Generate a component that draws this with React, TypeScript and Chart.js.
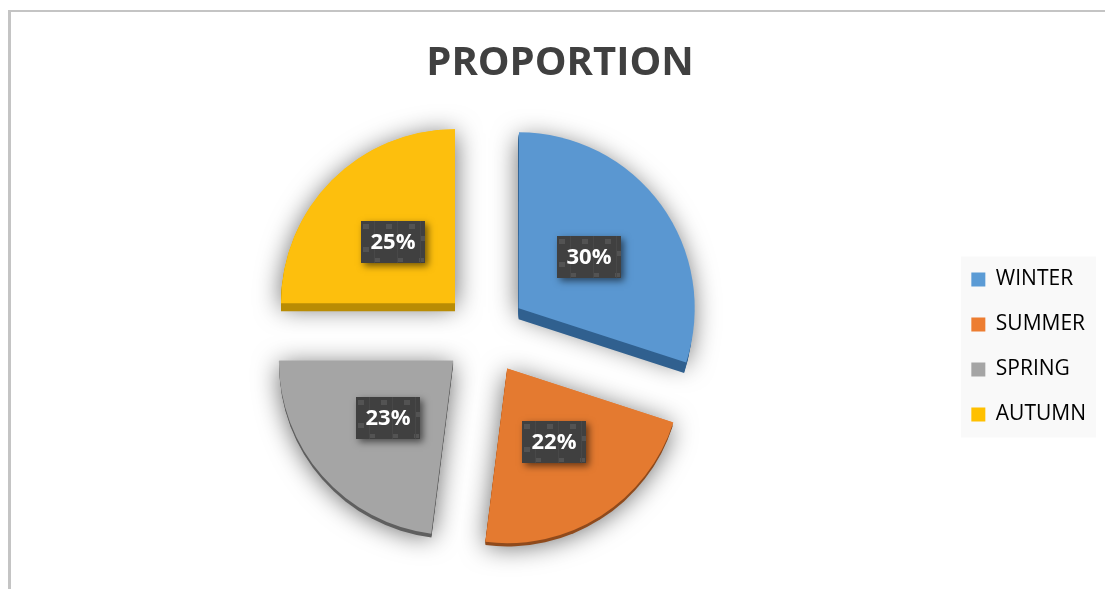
import React, { useEffect, useRef } from "react";
import { Chart, registerables } from "chart.js";

Chart.register(...registerables);

const seasons = ["WINTER", "SUMMER", "SPRING", "AUTUMN"];
const proportions = [30, 22, 23, 25];
const faceColors = ["#5a97d1", "#e47a30", "#a5a5a5", "#fdbf0d"];
const legendColors = ["#5b9bd5", "#ed7d31", "#a5a5a5", "#ffc000"];
const sideColors = ["#30608f", "#8f4a1c", "#5f5f5f", "#b98c04"];
const sideDepths = [11, 4, 4, 8];
const SLICE_SHIFT = 42;

function slicePath(ctx: CanvasRenderingContext2D, el: any) {
  const p = el.getProps(["x", "y", "startAngle", "endAngle", "outerRadius"], true);
  const mid = (p.startAngle + p.endAngle) / 2;
  const cx = p.x + Math.cos(mid) * SLICE_SHIFT;
  const cy = p.y + Math.sin(mid) * SLICE_SHIFT;
  ctx.beginPath();
  ctx.moveTo(cx, cy);
  ctx.arc(cx, cy, p.outerRadius, p.startAngle, p.endAngle);
  ctx.closePath();
  return { cx, cy, mid, r: p.outerRadius };
}

const sliceBackdrop = {
  id: "sliceBackdrop",
  beforeDatasetsDraw(chart: any) {
    const { ctx } = chart;
    const arcs = chart.getDatasetMeta(0).data;
    ctx.save();
    ctx.shadowColor = "rgba(0,0,0,0.6)";
    ctx.shadowBlur = 26;
    ctx.shadowOffsetY = 4;
    arcs.forEach((el: any, i: number) => {
      slicePath(ctx, el);
      ctx.fillStyle = faceColors[i];
      ctx.fill();
    });
    ctx.restore();
    ctx.save();
    arcs.forEach((el: any, i: number) => {
      ctx.fillStyle = sideColors[i];
      for (let d = 1; d <= sideDepths[i]; d++) {
        ctx.save();
        ctx.translate(0, d);
        slicePath(ctx, el);
        ctx.fill();
        ctx.restore();
      }
    });
    ctx.restore();
  },
};

const valueLabels = {
  id: "valueLabels",
  afterDatasetsDraw(chart: any) {
    const { ctx } = chart;
    chart.getDatasetMeta(0).data.forEach((el: any, i: number) => {
      const p = el.getProps(["x", "y", "startAngle", "endAngle", "outerRadius"], true);
      const mid = (p.startAngle + p.endAngle) / 2;
      const dist = SLICE_SHIFT + p.outerRadius / 2;
      const x = p.x + Math.cos(mid) * dist;
      const y = p.y + Math.sin(mid) * dist;
      const w = 64;
      const h = 42;
      const left = Math.round(x - w / 2);
      const top = Math.round(y - h / 2);
      ctx.save();
      ctx.shadowColor = "rgba(0,0,0,0.55)";
      ctx.shadowBlur = 7;
      ctx.shadowOffsetX = 3;
      ctx.shadowOffsetY = 3;
      ctx.fillStyle = "#404040";
      ctx.fillRect(left, top, w, h);
      ctx.restore();
      ctx.save();
      ctx.fillStyle = "#535353";
      [2, 25, 48].forEach((dx) => ctx.fillRect(left + dx, top + 3, 6, 5));
      [14, 37, 58].forEach((dx) => ctx.fillRect(left + dx, top + 37, 5, 4));
      ctx.fillRect(left + 2, top + 26, 6, 5);
      ctx.fillRect(left + 60, top + 15, 4, 5);
      ctx.fillStyle = "#484848";
      [13, 36, 59].forEach((dx) => ctx.fillRect(left + dx, top, 1, h));
      ctx.fillStyle = "#ffffff";
      ctx.font = "bold 22px 'Open Sans'";
      ctx.textAlign = "center";
      ctx.textBaseline = "middle";
      ctx.fillText(`${proportions[i]}%`, left + w / 2, top + h / 2 + 1);
      ctx.restore();
    });
  },
};

const layoutTweaks = {
  id: "layoutTweaks",
  afterLayout(chart: any) {
    if (chart.titleBlock) {
      chart.titleBlock.left += 1;
      chart.titleBlock.right += 1;
    }
    if (chart.legend) {
      chart.legend.left -= 9;
      chart.legend.right -= 9;
      chart.legend.top += 120;
    }
  },
  beforeDraw(chart: any) {
    const { ctx, legend } = chart;
    if (!legend) return;
    const center = (legend.top + legend.bottom) / 2;
    ctx.save();
    ctx.fillStyle = "#f9f9f9";
    ctx.fillRect(961, center - 90.5, 135, 181);
    ctx.restore();
  },
};

export default function App() {
  const ref = useRef<HTMLCanvasElement>(null);
  useEffect(() => {
    if (!ref.current) return;
    const chart = new Chart(ref.current, {
      type: "pie",
      data: {
        labels: seasons,
        datasets: [
          {
            data: proportions,
            backgroundColor: faceColors,
            borderWidth: 0,
            offset: SLICE_SHIFT * 4,
            hoverOffset: 0,
          },
        ],
      },
      options: {
        responsive: false,
        animation: false,
        radius: 174,
        layout: { padding: { left: 13, right: 0, top: 0, bottom: 15 } },
        plugins: {
          tooltip: { enabled: false },
          title: {
            display: true,
            text: "PROPORTION",
            color: "#404040",
            font: { family: "'Open Sans'", size: 40, weight: "bold", lineHeight: 1 },
            padding: { top: 44, bottom: 8 },
          },
          legend: {
            display: true,
            position: "right",
            labels: {
              boxWidth: 14,
              boxHeight: 14,
              padding: 24,
              color: "#404040",
              font: { family: "'Open Sans'", size: 21 },
              generateLabels: () =>
                seasons.map((text, i) => ({
                  text,
                  fillStyle: legendColors[i],
                  strokeStyle: legendColors[i],
                  lineWidth: 0,
                  index: i,
                  hidden: false,
                })),
            },
          },
        },
      },
      plugins: [sliceBackdrop, valueLabels, layoutTweaks],
    } as any);
    return () => chart.destroy();
  }, []);
  return (
    <div style={{ position: "fixed", left: 0, top: 0, width: 1105, height: 589, background: "#fff", overflow: "hidden" }}>
      <canvas ref={ref} width={1105} height={589} style={{ display: "block", position: "absolute", left: 0, top: 0 }} />
      <div
        style={{
          position: "absolute",
          left: 8,
          top: 10,
          width: 1120,
          height: 600,
          borderLeft: "3px solid #c4c4c4",
          borderTop: "2px solid #c4c4c4",
          pointerEvents: "none",
        }}
      />
    </div>
  );
}
